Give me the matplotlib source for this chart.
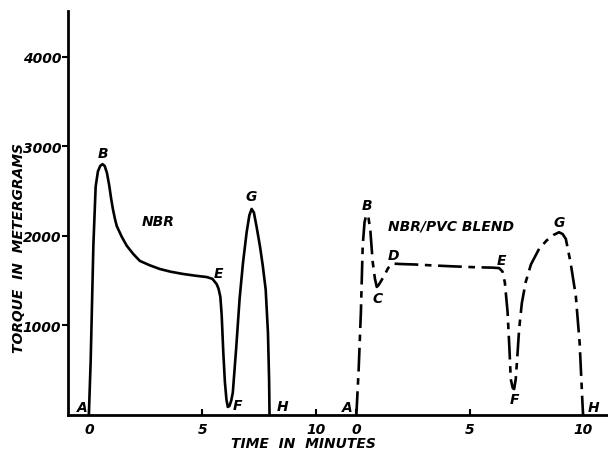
import matplotlib
matplotlib.use("Agg")
import matplotlib.pyplot as plt

# ---- data ----
offset = 11.8  # blend trace starts at this position on the shared time axis

nbr_t = [0.0, 0.08, 0.2, 0.3, 0.4, 0.5, 0.6, 0.7, 0.8, 0.9, 0.98, 1.06, 1.15, 1.23, 1.45, 1.67, 1.95,
         2.25, 2.7, 3.13, 3.6, 4.14, 4.7, 5.2, 5.45, 5.64, 5.72, 5.8, 5.86, 5.93, 6.0, 6.07, 6.13,
         6.2, 6.28, 6.35, 6.5, 6.65, 6.8, 6.96, 7.08, 7.18, 7.28, 7.4, 7.55, 7.67, 7.8, 7.9, 7.95,
         7.97]
nbr_y = [0, 600, 1900, 2550, 2720, 2780, 2800, 2780, 2700, 2560, 2420, 2300, 2190, 2110, 1990,
         1890, 1800, 1720, 1670, 1630, 1600, 1575, 1555, 1540, 1520, 1460, 1410, 1320, 1110, 700,
         370, 170, 90, 100, 160, 250, 750, 1300, 1700, 2040, 2230, 2300, 2260, 2100, 1880, 1670,
         1400, 920, 400, 0]

blend_t = [0.0, 0.1, 0.2, 0.28, 0.36, 0.43, 0.52, 0.62, 0.72, 0.82, 0.9, 0.98, 1.1, 1.23, 1.4,
           1.6, 2.0, 2.6, 3.34, 4.2, 5.2, 6.0, 6.3, 6.45, 6.55, 6.67, 6.75, 6.81, 6.9, 6.96, 7.03,
           7.1, 7.18, 7.3, 7.47, 7.7, 8.06, 8.4, 8.7, 8.94, 9.1, 9.24, 9.45, 9.68, 9.85, 9.97, 10.0]
blend_y = [0, 500, 1150, 1890, 2150, 2230, 2230, 2050, 1710, 1520, 1430, 1450, 1500, 1556, 1640,
           1690, 1685, 1680, 1670, 1660, 1650, 1645, 1640, 1600, 1480, 1150, 750, 400, 300, 290,
           400, 650, 960, 1250, 1485, 1680, 1855, 1950, 2010, 2040, 2020, 1965, 1700, 1330, 800,
           150, 0]

yticks = [1000, 2000, 3000, 4000]
ytick_labels = ["1000", "2000", "3000", "4000"]
xtick_min = [0, 5, 10]
xtick_labels = ["0", "5", "10", "0", "5", "10"]

nbr_marks = [("A", -0.28, 90), ("B", 0.62, 2930), ("E", 5.7, 1580), ("F", 6.55, 110),
             ("G", 7.15, 2450), ("H", 8.55, 100)]
blend_marks = [("A", -0.38, 90), ("B", 0.48, 2340), ("C", 0.92, 1310), ("D", 1.65, 1790),
               ("E", 6.4, 1730), ("F", 6.98, 180), ("G", 8.95, 2150), ("H", 10.45, 90)]

# ---- drawing ----
font = dict(family="DejaVu Sans", style="italic", weight="bold")

fig = plt.figure(figsize=(6.08, 4.52), dpi=100)
ax = fig.add_axes([68 / 608, 36 / 452, 540 / 608, 404 / 452])

ax.plot(nbr_t, nbr_y, color="black", lw=1.9, solid_joinstyle="round")
ax.plot([t + offset for t in blend_t], blend_y, color="black", lw=1.9,
        linestyle=(0, (9, 2.5, 2.5, 2.5)))

for lab, t, y in nbr_marks:
    ax.text(t, y, lab, ha="center", va="center", fontsize=10, **font)
for lab, t, y in blend_marks:
    ax.text(t + offset, y, lab, ha="center", va="center", fontsize=10, **font)

ax.text(3.04, 2170, "NBR", ha="center", va="center", fontsize=10, **font)
ax.text(15.96, 2110, "NBR/PVC BLEND", ha="center", va="center", fontsize=10, **font)

ax.set_xlim(-0.92, 22.9)
ax.set_ylim(0, 4510)

ax.set_yticks(yticks)
ax.set_yticklabels(ytick_labels, **font, fontsize=10)
xt = xtick_min + [t + offset for t in xtick_min]
ax.set_xticks(xt)
ax.set_xticklabels(xtick_labels, **font, fontsize=10)
ax.tick_params(axis="y", direction="out", length=4, width=1.5, pad=1)
ax.tick_params(axis="x", direction="in", length=4, width=1.5, pad=5)

for s in ("top", "right"):
    ax.spines[s].set_visible(False)
for s in ("left", "bottom"):
    ax.spines[s].set_linewidth(2.0)

ax.set_ylabel("TORQUE  IN  METERGRAMS", fontsize=10, labelpad=2, **font)
ax.set_xlabel("TIME  IN  MINUTES", fontsize=10, labelpad=0, **font)
ax.xaxis.set_label_coords((303 - 68) / 540, -0.052)
ax.yaxis.set_label_coords(-0.078, (416 - 248) / 404)

fig.savefig("out.png", dpi=100, facecolor="white")
